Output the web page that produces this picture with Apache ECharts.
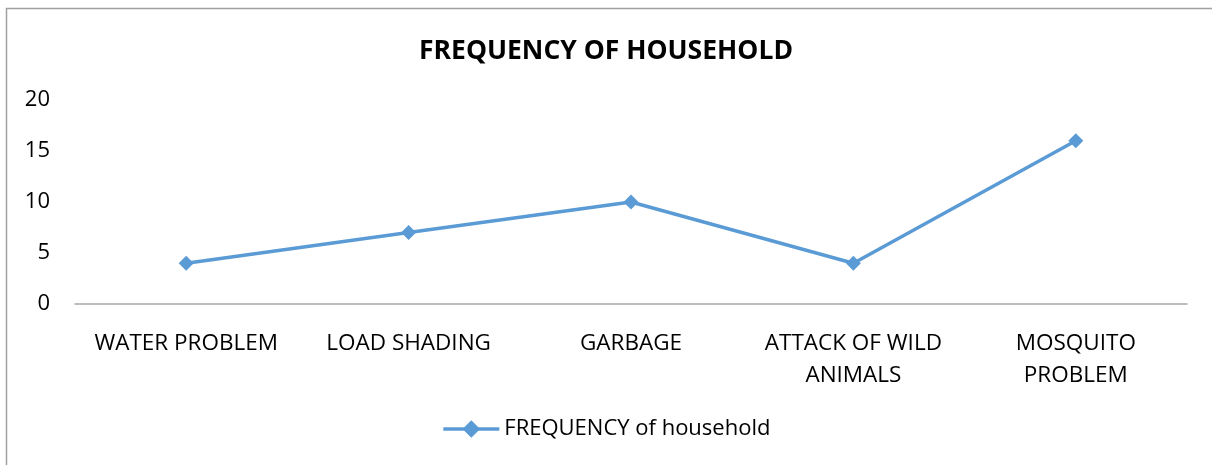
<!DOCTYPE html>
<html><head><meta charset="utf-8">
<script src="https://cdn.jsdelivr.net/npm/echarts@6/dist/echarts.min.js"></script>
<style>html,body{margin:0;padding:0;background:#fff}#c{width:1212px;height:465px}</style>
</head><body><div id="c"></div>
<script>
const categories = ["WATER PROBLEM", "LOAD SHADING", "GARBAGE", "ATTACK OF WILD\nANIMALS", "MOSQUITO\nPROBLEM"];
const values = [4, 7, 10, 4, 16];
const seriesName = "FREQUENCY of household";
const titleText = "FREQUENCY OF HOUSEHOLD";
const font = "'Open Sans', 'Liberation Sans', sans-serif";
const chart = echarts.init(document.getElementById('c'));
chart.setOption({
  animation: false,
  graphic: [{type:'rect', shape:{x:6.5,y:8.5,width:1300,height:600}, style:{fill:null, stroke:'#a0a0a0', lineWidth:1.5}, silent:true}],
  title: {text: titleText, left: 'center', top: 33, textStyle:{fontFamily:font, fontWeight:'bold', fontSize:26.5, color:'#000'}},
  grid: {left: 75, right: 25, top: 100, bottom: 161, containLabel:false},
  legend: {bottom: 20, left:'center', itemWidth: 56, itemHeight: 22, itemGap: 8,
    lineStyle:{width:3.5, color:'#5b9bd5'},
    textStyle:{fontFamily:font, fontSize:22, color:'#000'}, data:[seriesName]},
  xAxis: {type:'category', data: categories, boundaryGap: true,
    axisLine:{lineStyle:{color:'#a6a6a6', width:1.5}}, axisTick:{show:false},
    axisLabel:{fontFamily:font, fontSize:22.5, color:'#000', margin:24, lineHeight:32, interval:0}},
  yAxis: {type:'value', min:0, max:20, interval:5, axisLine:{show:false}, axisTick:{show:false}, splitLine:{show:false},
    axisLabel:{fontFamily:font, fontSize:22, color:'#000', margin:25}},
  series: [{name: seriesName, type:'line', data: values, symbol:'diamond', symbolSize:15,
    lineStyle:{color:'#5b9bd5', width:3.5}, itemStyle:{color:'#5b9bd5'}}]
});
</script></body></html>
